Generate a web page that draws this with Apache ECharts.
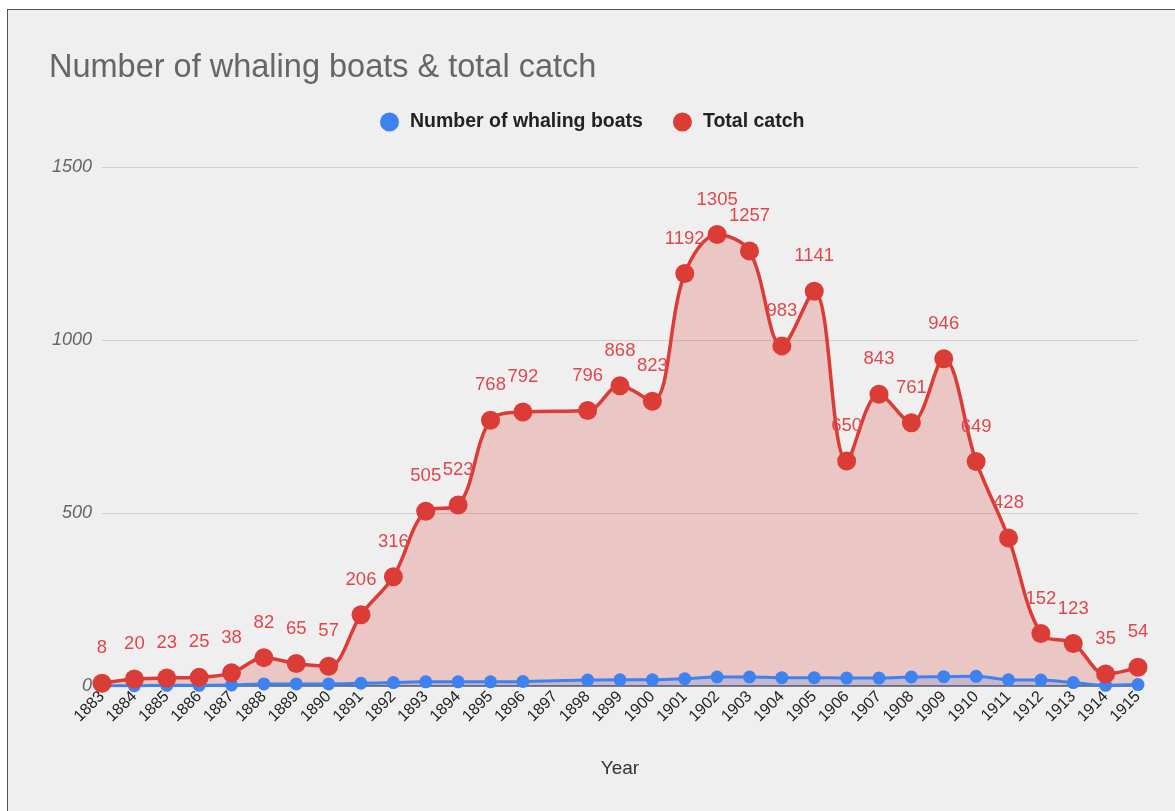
<!DOCTYPE html>
<html>
<head>
<meta charset="utf-8">
<script src="https://cdn.jsdelivr.net/npm/echarts@6/dist/echarts.min.js"></script>
<style>
  html, body { margin: 0; padding: 0; background: #ffffff; }
  #frame { position: absolute; left: 7px; top: 9px; width: 1168px; height: 802px;
           border-left: 1.5px solid #555; border-top: 1.5px solid #555; background: #efefef; }
  #chart { width: 1168px; height: 802px; }
</style>
</head>
<body>
<div id="frame"><div id="chart"></div></div>
<script>
const years = [1883,1884,1885,1886,1887,1888,1889,1890,1891,1892,1893,1894,1895,1896,1898,1899,1900,1901,1902,1903,1904,1905,1906,1907,1908,1909,1910,1911,1912,1913,1914,1915];
const totalCatch = [8,20,23,25,38,82,65,57,206,316,505,523,768,792,796,868,823,1192,1305,1257,983,1141,650,843,761,946,649,428,152,123,35,54];
const whalingBoats = [1,1,2,2,3,6,6,6,8,10,12,12,12,13,17,18,18,21,26,26,24,24,23,23,26,27,28,18,17,10,2,4];
const yTicks = [0,500,1000,1500];

const chart = echarts.init(document.getElementById('chart'));
const pairs = (vals) => years.map((y, i) => [y, vals[i]]);
const font = 'Arial, "Liberation Sans", sans-serif';
const RED = '#db3c36', BLUE = '#3d82f0';

chart.setOption({
  backgroundColor: '#efefef',
  animation: false,
  textStyle: { fontFamily: font },
  title: {
    text: 'Number of whaling boats & total catch',
    left: 36, top: 37,
    textStyle: { fontFamily: font, fontSize: 32.5, fontWeight: 'normal', color: '#666' }
  },
  legend: {
    left: 367, top: 97,
    itemWidth: 19, itemHeight: 19, itemGap: 30,
    icon: 'circle',
    textStyle: { fontFamily: font, fontSize: 19.5, fontWeight: 'bold', color: '#222', padding: [0, 0, 0, 6] },
    data: ['Number of whaling boats', 'Total catch']
  },
  grid: { left: 94, right: 38, top: 157, bottom: 126 },
  xAxis: {
    type: 'value', min: 1883, max: 1915, interval: 1,
    name: 'Year', nameLocation: 'middle', nameGap: 73,
    nameTextStyle: { fontFamily: font, fontSize: 19, color: '#333' },
    axisLine: { show: false },
    axisTick: { show: false },
    splitLine: { show: false },
    axisLabel: { rotate: 45, fontSize: 16, color: '#222', margin: 8, formatter: v => String(v) }
  },
  yAxis: {
    type: 'value', min: 0, max: 1500, interval: 500,
    axisLine: { show: false }, axisTick: { show: false },
    splitLine: { lineStyle: { color: '#cfcfcf', width: 1.2 } },
    axisLabel: { fontSize: 18, fontStyle: 'italic', color: '#666', margin: 10,
                 formatter: v => yTicks.includes(v) ? String(v) : '' }
  },
  series: [
    {
      name: 'Total catch area', type: 'line', smooth: 0.35,
      data: pairs(totalCatch), symbol: 'none', silent: true,
      lineStyle: { width: 0 },
      areaStyle: { color: 'rgba(219,60,54,0.32)' },
      z: 1
    },
    {
      type: 'line', data: [[1883, 0], [1915, 0]], symbol: 'none', silent: true,
      lineStyle: { color: '#444', width: 1.5 }, z: 1
    },
    {
      name: 'Number of whaling boats', type: 'line', smooth: 0.35,
      data: pairs(whalingBoats),
      symbol: 'circle', symbolSize: 13,
      itemStyle: { color: BLUE },
      lineStyle: { color: BLUE, width: 3 },
      areaStyle: { color: 'rgba(61,130,240,0.3)' },
      z: 2
    },
    {
      name: 'Total catch', type: 'line', smooth: 0.35,
      data: pairs(totalCatch),
      symbol: 'circle', symbolSize: 19,
      itemStyle: { color: RED },
      lineStyle: { color: RED, width: 3.5 },
      label: { show: true, position: 'top', distance: 16, fontSize: 18.5, color: '#e0474c',
               formatter: p => p.value[1] },
      z: 3
    }
  ]
});
</script>
</body>
</html>
